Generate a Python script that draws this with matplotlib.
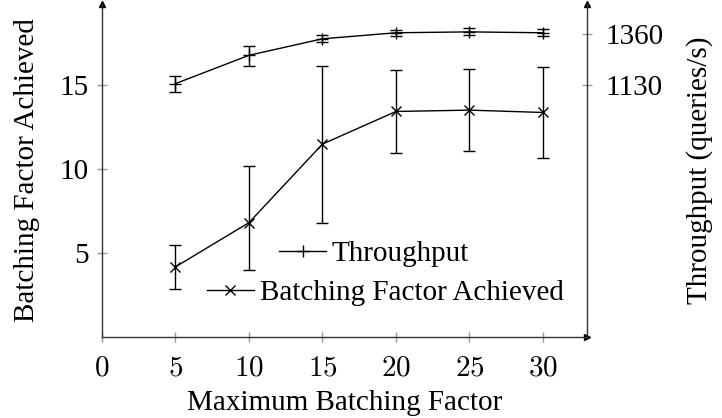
import numpy as np
import matplotlib
matplotlib.use("Agg")
from matplotlib import pyplot as plt

plt.rcParams['font.family'] = ['Liberation Serif', 'DejaVu Serif']
plt.rcParams['mathtext.fontset'] = 'cm'
plt.rcParams['font.size'] = 21

# batching limit on the x axis
max_batch = [5, 10, 15, 20, 25, 30]

# throughput (queries/s), mean with min/max
thr = np.array([1136, 1263, 1337, 1364, 1368, 1364])
thr_lo = np.array([1098, 1217, 1322, 1349, 1353, 1349])
thr_hi = np.array([1171, 1305, 1355, 1376, 1385, 1380])

# batching factor actually reached
bf = np.array([4.17, 6.80, 11.47, 13.41, 13.49, 13.35])
bf_lo = np.array([2.84, 3.99, 6.77, 10.97, 11.05, 10.67])
bf_hi = np.array([5.46, 10.14, 16.09, 15.89, 15.93, 16.05])

xticks = [0, 5, 10, 15, 20, 25, 30]
left_ticks = [5, 10, 15]
right_ticks = [1130, 1360]

fig = plt.figure(figsize=(7.22, 4.18), dpi=100)
ax = fig.add_axes([102/722, 1 - 337/418, 485/722, 333/418])
ax2 = ax.twinx()

ax.set_xlim(0, 33)
ax.set_ylim(0, 19.8)
ax2.set_ylim(0, 1493)

# batching factor on the left scale
bf_line, = ax.plot(max_batch, bf, color='k', lw=1, marker='x', ms=7, mew=1)
ax.errorbar(max_batch, bf, yerr=[bf - bf_lo, bf_hi - bf], fmt='none',
            ecolor='k', elinewidth=1, capsize=4.5, capthick=1)

# throughput on the right scale
thr_line, = ax2.plot(max_batch, thr, color='k', lw=1, marker='+', ms=9, mew=1)
ax2.errorbar(max_batch, thr, yerr=[thr - thr_lo, thr_hi - thr], fmt='none',
             ecolor='k', elinewidth=1, capsize=4.5, capthick=1)

# axis lines with arrow heads
for a in (ax, ax2):
    for s in a.spines.values():
        s.set_visible(False)
ax.spines['left'].set_visible(True)
ax.spines['bottom'].set_visible(True)
ax2.spines['right'].set_visible(True)
for s in (ax.spines['left'], ax.spines['bottom'], ax2.spines['right']):
    s.set_linewidth(1)
    s.set_color('#333333')
ax.plot(1, 0, '>', color='k', ms=5, transform=ax.transAxes, clip_on=False)
ax.plot(0, 1, '^', color='k', ms=5, transform=ax.transAxes, clip_on=False)
ax.plot(1, 1, '^', color='k', ms=5, transform=ax.transAxes, clip_on=False)

ax.set_xticks(xticks)
ax.set_xticklabels(['$%d$' % t for t in xticks])
ax.set_yticks(left_ticks)
ax2.set_yticks(right_ticks)
ax.tick_params(axis='both', direction='inout', length=7, width=1,
               color='#999999', labelsize=21, pad=6)
ax2.tick_params(axis='y', direction='inout', length=7, width=1,
                color='#999999', labelsize=21, pad=10)
ax.tick_params(axis='x', pad=10)

ax.set_xlabel('Maximum Batching Factor', fontsize=21, labelpad=6)
ax.set_ylabel('Batching Factor Achieved', fontsize=21, labelpad=14)
ax2.set_ylabel('Throughput (queries/s)', fontsize=21, labelpad=16)

# one legend per row, each row centred
leg1 = ax.legend([thr_line], ['Throughput'], loc='center',
                 bbox_to_anchor=(0.561, 0.249), frameon=False, fontsize=21,
                 handlelength=1.6, handletextpad=0.2, borderpad=0, borderaxespad=0)
ax.add_artist(leg1)
ax.legend([bf_line], ['Batching Factor Achieved'], loc='center',
          bbox_to_anchor=(0.584, 0.132), frameon=False, fontsize=21,
          handlelength=1.6, handletextpad=0.2, borderpad=0, borderaxespad=0)

fig.savefig('out.png', dpi=100)
